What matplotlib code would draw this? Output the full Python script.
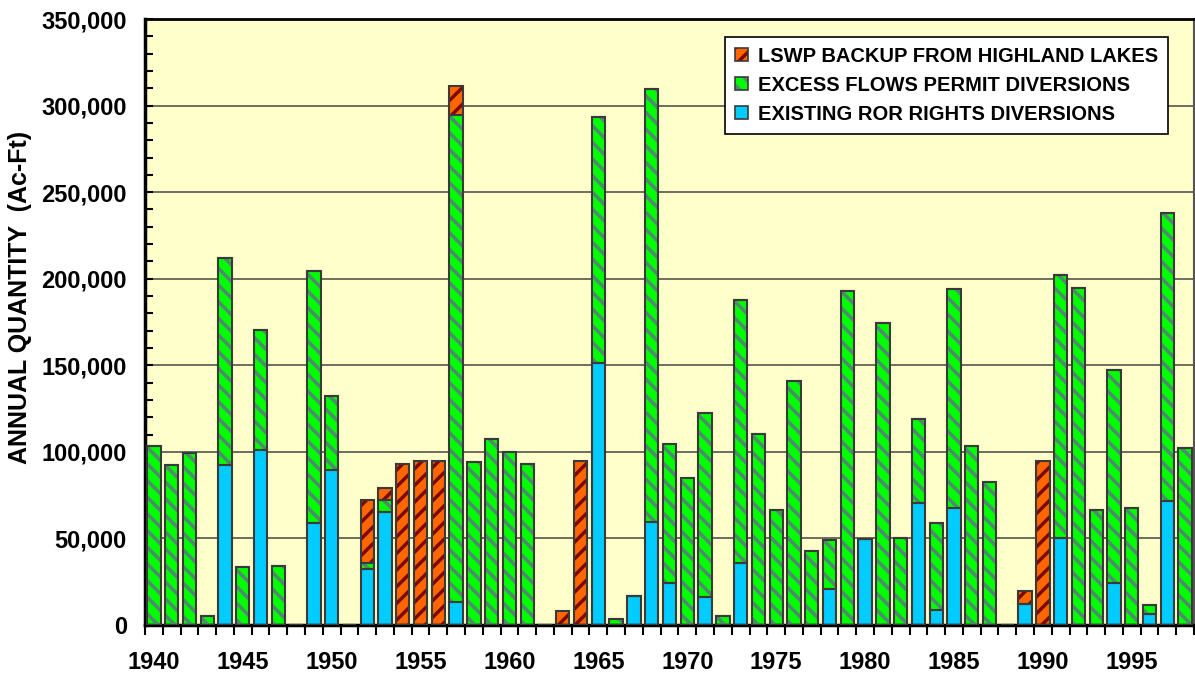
import matplotlib
matplotlib.use("Agg")
import matplotlib.pyplot as plt
import numpy as np
from matplotlib.patches import Patch
from matplotlib.ticker import FixedLocator, MultipleLocator, StrMethodFormatter

# Years on the x axis
years = list(range(1940, 1999))

# Existing run-of-river rights diversions (Ac-Ft)
ror = [0, 0, 0, 0, 92500, 0, 101000, 0, 0, 59100,
       89600, 0, 32400, 65100, 0, 0, 0, 13500, 0, 0,
       0, 0, 0, 0, 0, 151400, 0, 16600, 59400, 24300,
       0, 16200, 0, 36000, 0, 0, 0, 0, 21000, 0,
       49700, 0, 0, 70500, 8700, 67600, 0, 0, 0, 12000,
       0, 50500, 0, 0, 24300, 0, 6400, 71900, 0]

# Excess flows permit diversions (Ac-Ft)
excess = [103500, 92500, 99400, 5000, 119400, 33300, 69100, 34300, 0, 145100,
          42800, 0, 3300, 7000, 0, 0, 0, 281100, 94400, 107700,
          99800, 92700, 0, 0, 0, 142000, 3500, 0, 250400, 80100,
          85000, 106300, 5400, 151500, 110600, 66300, 141200, 42800, 27900, 192700,
          0, 174400, 50500, 48200, 50400, 126600, 103600, 82700, 0, 0,
          0, 151800, 194400, 66300, 122900, 67800, 5000, 166200, 102500]

# LSWP backup from Highland Lakes (Ac-Ft)
lswp = [0, 0, 0, 0, 0, 0, 0, 0, 0, 0,
        0, 0, 36400, 6900, 92900, 95000, 95000, 16500, 0, 0,
        0, 0, 0, 8100, 95000, 0, 0, 0, 0, 0,
        0, 0, 0, 0, 0, 0, 0, 0, 0, 0,
        0, 0, 0, 0, 0, 0, 0, 0, 0, 7800,
        95000, 0, 0, 0, 0, 0, 0, 0, 0]

labels = ["LSWP BACKUP FROM HIGHLAND LAKES",
          "EXCESS FLOWS PERMIT DIVERSIONS",
          "EXISTING ROR RIGHTS DIVERSIONS"]

plt.rcParams['font.family'] = ['Liberation Sans', 'DejaVu Sans']
plt.rcParams['font.weight'] = 'bold'
plt.rcParams['hatch.linewidth'] = 2.5

edge = '#3a3a3a'
blue = '#00ccff'
green = '#00ff00'
green_hatch = '#4f8a6e'
orange = '#ff6600'
orange_hatch = '#7a0a00'

x = np.arange(len(years))
ror = np.array(ror)
excess = np.array(excess)
lswp = np.array(lswp)
w = 0.75

fig = plt.figure(figsize=(11.95, 6.73), dpi=100)
ax = fig.add_axes([145 / 1195, 1 - 625 / 673, 1049 / 1195, 606 / 673])
ax.set_facecolor('#ffffcc')


def hatched_bars(vals, bottom, face, hcol, hatch):
    ax.bar(x, vals, w, bottom=bottom, color=face, edgecolor='none', linewidth=0, zorder=2)
    if hatch:
        ax.bar(x, vals, w, bottom=bottom, facecolor='none', edgecolor=hcol,
               hatch=hatch, linewidth=0, zorder=3)
    ax.bar(x, vals, w, bottom=bottom, facecolor='none', edgecolor=edge,
           linewidth=1.5, zorder=4)


hatched_bars(ror, 0, blue, None, None)
hatched_bars(excess, ror, green, green_hatch, '\\\\')
hatched_bars(lswp, ror + excess, orange, orange_hatch, '//')

ax.set_xlim(-0.5, len(years) - 0.5)
ax.set_ylim(0, 350000)

# y axis
ax.yaxis.set_major_locator(MultipleLocator(50000))
ax.yaxis.set_minor_locator(MultipleLocator(10000))
ax.yaxis.set_major_formatter(StrMethodFormatter('{x:,.0f}'))
ax.tick_params(axis='y', which='both', direction='in', length=6, width=1.5,
               labelsize=17, pad=13, right=False)
ax.grid(axis='y', which='major', color='#55554a', linewidth=1.2, zorder=1)
ax.set_axisbelow(True)

# x axis: labels every 5 years, ticks between bars
ax.xaxis.set_major_locator(FixedLocator(x[::5]))
ax.set_xticklabels([str(y) for y in years[::5]])
ax.xaxis.set_minor_locator(FixedLocator(np.arange(-0.5, len(years), 1)))
ax.tick_params(axis='x', which='major', length=0, labelsize=17, pad=19)
ax.tick_params(axis='x', which='minor', direction='out', length=7, width=1.5)

for s in ['left', 'bottom']:
    ax.spines[s].set_linewidth(2.5)
    ax.spines[s].set_color('black')
ax.spines['top'].set_linewidth(2)
ax.spines['right'].set_linewidth(1.5)
ax.spines['right'].set_color('#555555')

ax.set_ylabel("ANNUAL QUANTITY  (Ac-Ft)", fontsize=18, fontweight='bold')
ax.yaxis.set_label_coords(-0.108, 0.54)

# legend with hatched swatches
def swatch(face, hcol, hatch):
    parts = [Patch(facecolor=face, edgecolor='none', linewidth=0)]
    if hatch:
        parts.append(Patch(facecolor='none', edgecolor=hcol, hatch=hatch, linewidth=0))
    parts.append(Patch(facecolor='none', edgecolor=edge, linewidth=1.2))
    return tuple(parts)


handles = [swatch(orange, orange_hatch, '//'),
           swatch(green, green_hatch, '\\\\'),
           swatch(blue, None, None)]
leg = ax.legend(handles, labels, loc='upper right', bbox_to_anchor=(0.9752, 0.971),
                borderaxespad=0, fontsize=14.5, frameon=True, fancybox=False,
                edgecolor='black', facecolor='white', framealpha=1,
                handlelength=0.65, handleheight=0.65, handletextpad=0.5,
                borderpad=0.5, labelspacing=0.5)
leg.get_frame().set_linewidth(1.2)
leg.set_zorder(10)

fig.savefig("out.png", dpi=100)
